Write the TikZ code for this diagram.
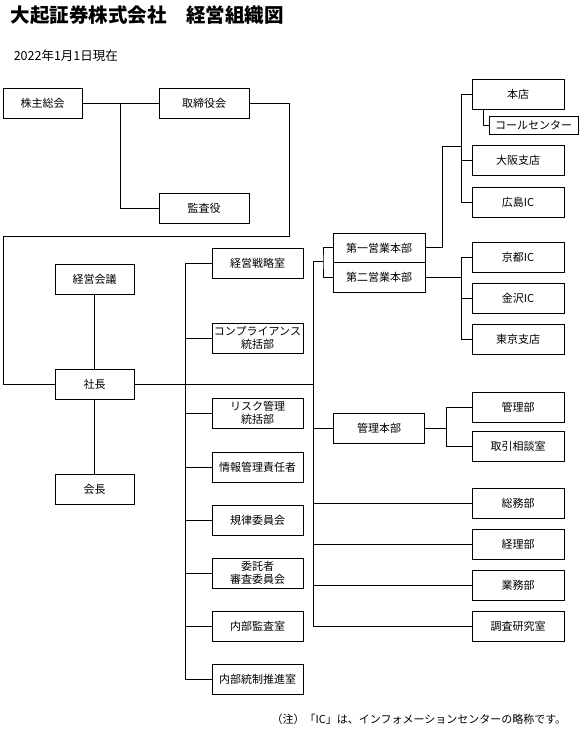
\documentclass[tikz,border=0pt]{standalone}
\usepackage{fontspec}
\setmainfont{Noto Sans CJK JP}
\usepackage{tikz}
\tikzstyle{every picture}=[x=1pt,y=-1pt,line width=0.9pt]
\tikzstyle{unit}=[draw,rectangle,line width=0.9pt,inner sep=1pt,minimum height=30pt,align=center,font=\fontsize{11}{13.5}\selectfont]
\tikzstyle{left unit}=[unit,minimum width=79pt]
\tikzstyle{mid unit}=[unit,minimum width=91pt]
\tikzstyle{right unit}=[unit,minimum width=92pt]
\begin{document}
\begin{tikzpicture}
\useasboundingbox (0,0) rectangle (579,730);

\node[anchor=north west,font=\fontsize{19.5}{22}\selectfont\bfseries] (title) at (7,2) {大起証券株式会社　経営組織図};
\node[anchor=north west,font=\fontsize{12.5}{14}\selectfont] (date) at (10,46) {2022年1月1日現在};
\node[anchor=east,font=\fontsize{11}{13}\selectfont] (note) at (570,719) {（注）「IC」は、インフォメーションセンターの略称です。};

\node[left unit] (kabu) at (42.5,103) {株主総会};
\node[unit,minimum width=90pt] (tori) at (204,103) {取締役会};
\node[unit,minimum width=90pt] (kansa) at (204,208) {監査役};
\node[left unit] (keiei) at (94.5,279) {経営会議};
\node[left unit] (shacho) at (94.5,384) {社長};
\node[left unit] (kaicho) at (94.5,489) {会長};

\node[mid unit] (senryaku) at (257.5,263) {経営戦略室};
\node[mid unit] (comp) at (257.5,338) {コンプライアンス\\統括部};
\node[mid unit] (risk) at (257.5,413) {リスク管理\\統括部};
\node[mid unit] (joho) at (257.5,467) {情報管理責任者};
\node[mid unit] (kiritsu) at (257.5,520) {規律委員会};
\node[mid unit] (itaku) at (257.5,573) {委託者\\審査委員会};
\node[mid unit] (naibu) at (257.5,626) {内部監査室};
\node[mid unit] (tosei) at (257.5,679) {内部統制推進室};

\node[unit,minimum width=92pt,minimum height=29.5pt] (eigyo1) at (379,247.8) {第一営業本部};
\node[unit,minimum width=92pt,minimum height=29.5pt] (eigyo2) at (379,277.3) {第二営業本部};
\node[mid unit] (kanrihonbu) at (379,428) {管理本部};

\node[right unit] (honten) at (518,94) {本店};
\node[unit,minimum width=89pt,minimum height=18pt] (call) at (533.5,125) {コールセンター};
\node[right unit] (osaka) at (518,160) {大阪支店};
\node[right unit] (hiroshima) at (518,202) {広島IC};
\node[right unit] (kyoto) at (518,257) {京都IC};
\node[right unit] (kanazawa) at (518,298) {金沢IC};
\node[right unit] (tokyo) at (518,339) {東京支店};
\node[right unit] (kanribu) at (518,407) {管理部};
\node[right unit] (torihiki) at (518,446) {取引相談室};
\node[right unit] (somu) at (518,503) {総務部};
\node[right unit] (keiri) at (518,544.7) {経理部};
\node[right unit] (gyomu) at (518,585.7) {業務部};
\node[right unit] (chosa) at (518,626.7) {調査研究室};

\coordinate (j1) at (120,103);
\coordinate (c1) at (289,236);
\coordinate (c2) at (3,236);
\coordinate (stop) at (185,263);
\coordinate (rtop) at (313,261);
\coordinate (b) at (323,261);
\coordinate (e1) at (442,146);
\coordinate (htop) at (461,94);
\coordinate (ktop) at (461,257);
\coordinate (mtop) at (446,407);

\draw (kabu) -- (tori);
\draw (j1) |- (kansa.west);
\draw (tori.east) -| (c1) -- (c2) |- (shacho.west);
\draw (keiei) -- (shacho) -- (kaicho);
\draw (shacho.east) -- (rtop |- shacho.east);

\draw (senryaku.west) -- (stop) |- (tosei.west);
\foreach \n in {comp,risk,joho,kiritsu,itaku,naibu}
  \draw (stop |- \n.west) -- (\n.west);

\draw (rtop) |- (chosa.west);
\foreach \n in {kanrihonbu,somu,keiri,gyomu}
  \draw (rtop |- \n.west) -- (\n.west);
\draw (rtop) -- (b);
\draw (eigyo1.west) -| (b) |- (eigyo2.west);

\draw (eigyo1.east) -| (e1) -- (htop |- e1);
\draw (honten.west) -- (htop) |- (hiroshima.west);
\draw (htop |- osaka.west) -- (osaka.west);
\draw ([xshift=-5pt]call.west |- honten.south) |- (call.west);

\draw (eigyo2.east) -- (ktop |- eigyo2.east);
\draw (kyoto.west) -- (ktop) |- (tokyo.west);
\draw (ktop |- kanazawa.west) -- (kanazawa.west);

\draw (kanrihonbu.east) -- (mtop |- kanrihonbu.east);
\draw (kanribu.west) -- (mtop) |- (torihiki.west);
\end{tikzpicture}
\end{document}
